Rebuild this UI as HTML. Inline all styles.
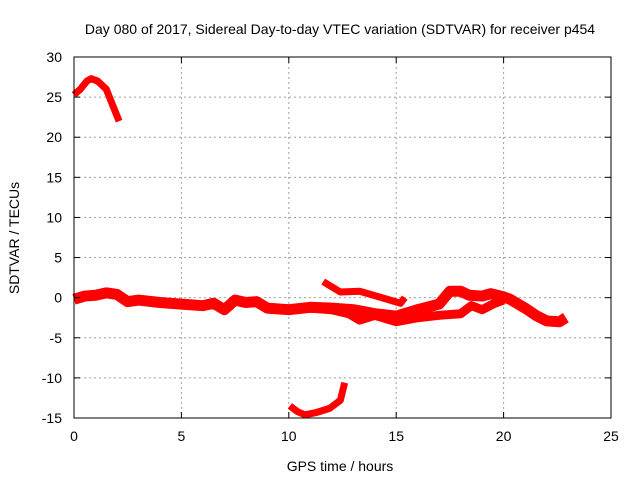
<!DOCTYPE html>
<html><head><meta charset="utf-8"><style>
body{margin:0;background:#fff}
svg text{font-family:"Liberation Sans",sans-serif;font-size:14px;fill:#000}
</style></head><body>
<svg width="640" height="480">
<g id="grid"></g><g id="series"></g><g id="axes"></g>
</svg>
<script>
const xTicks=[0,5,10,15,20,25];
const yTicks=[30,25,20,15,10,5,0,-5,-10,-15];
const s1H=[0,0.3,0.6,0.8,1.1,1.5,1.8,2.1];
const s1V=[25.3,26,27,27.3,27,26,24,22];
const s2H=[0,0.5,1,1.5,2,2.5,3,4,5,6,6.5,7,7.5,8,8.5,9,10,11,12,13,14,15,16,17,17.5,18,18.4,19,19.4,20,20.3,21,21.5,22,22.6,22.9];
const s2V=[-0.2,0.2,0.3,0.6,0.4,-0.5,-0.3,-0.6,-0.8,-1,-0.7,-1.5,-0.3,-0.6,-0.5,-1.3,-1.5,-1.2,-1.3,-1.5,-2,-2.3,-1.5,-0.8,0.8,0.8,0.3,0.2,0.5,0.1,-0.2,-1.3,-2.2,-2.9,-3,-2.5];
const s3H=[11.6,12.4,13.3,14.2,15.2,15.4];
const s3V=[2,0.7,0.8,0.1,-0.7,0];
const s4H=[11,12,12.8,13.3,14,15,16,17,18,18.5,19,19.5,20];
const s4V=[-1.3,-1.5,-2,-2.8,-2.2,-3,-2.5,-2.2,-2,-1,-1.5,-0.8,-0.3];
const s5H=[10.05,10.4,10.75,11.3,11.9,12.4,12.6];
const s5V=[-13.5,-14.2,-14.6,-14.3,-13.8,-12.8,-10.6];
const X0=74,X1=611,Y0=57,Y1=418;
const xs=h=>X0+(h-0)/25*(X1-X0);
const ys=v=>Y0+(30-v)/45*(Y1-Y0);
const NS="http://www.w3.org/2000/svg";
function mk(p,t,a){const e=document.createElementNS(NS,t);for(const k in a)e.setAttribute(k,a[k]);p.appendChild(e);return e;}
const G=document.getElementById('grid'),S=document.getElementById('series'),A=document.getElementById('axes');
xTicks.forEach(t=>{
 if(t>0&&t<25){const l=mk(G,'line',{x1:xs(t),x2:xs(t),y1:Y0,y2:Y1,stroke:'#a0a0a0','stroke-dasharray':'2,3'});
 }
 mk(A,'line',{x1:xs(t),x2:xs(t),y1:Y1,y2:Y1-6,stroke:'#000'});mk(A,'line',{x1:xs(t),x2:xs(t),y1:Y0,y2:Y0+6,stroke:'#000'});
 const tx=mk(A,'text',{x:xs(t),y:Y1+23,'text-anchor':'middle'});tx.textContent=t;
 
});
yTicks.forEach(t=>{
 if(t<30&&t>-15){const l=mk(G,'line',{x1:X0,x2:X1,y1:ys(t),y2:ys(t),stroke:'#a0a0a0','stroke-dasharray':'2,3'});
 }
 mk(A,'line',{x1:X0,x2:X0+6,y1:ys(t),y2:ys(t),stroke:'#000'});mk(A,'line',{x1:X1,x2:X1-6,y1:ys(t),y2:ys(t),stroke:'#000'});
 const tx=mk(A,'text',{x:X0-12,y:ys(t)+5,'text-anchor':'end'});tx.textContent=t;
 
});
const fr=mk(A,'rect',{x:X0,y:Y0,width:X1-X0,height:Y1-Y0,fill:'none',stroke:'#000'});

[[s1H,s1V,7,'series-early'],[s2H,s2V,11,'series-main'],[s3H,s3V,7,'series-upper-arc'],[s4H,s4V,9,'series-lower-loop'],[s5H,s5V,7,'series-bottom-arc']].forEach(([H,V,w,n])=>{
 const p=mk(S,'polyline',{points:H.map((h,i)=>xs(h)+','+ys(V[i])).join(' '),fill:'none',stroke:'#ff0000','stroke-width':w,'stroke-linejoin':'round'});
 
});
const t1=mk(A,'text',{x:340,y:34,'text-anchor':'middle'});t1.textContent='Day 080 of 2017, Sidereal Day-to-day VTEC variation (SDTVAR) for receiver p454';

const t2=mk(A,'text',{x:340,y:471,'text-anchor':'middle'});t2.textContent='GPS time / hours';

const t3=mk(A,'text',{x:19,y:238,'text-anchor':'middle',transform:'rotate(-90 19 238)'});t3.textContent='SDTVAR / TECUs';

</script>
</body></html>
